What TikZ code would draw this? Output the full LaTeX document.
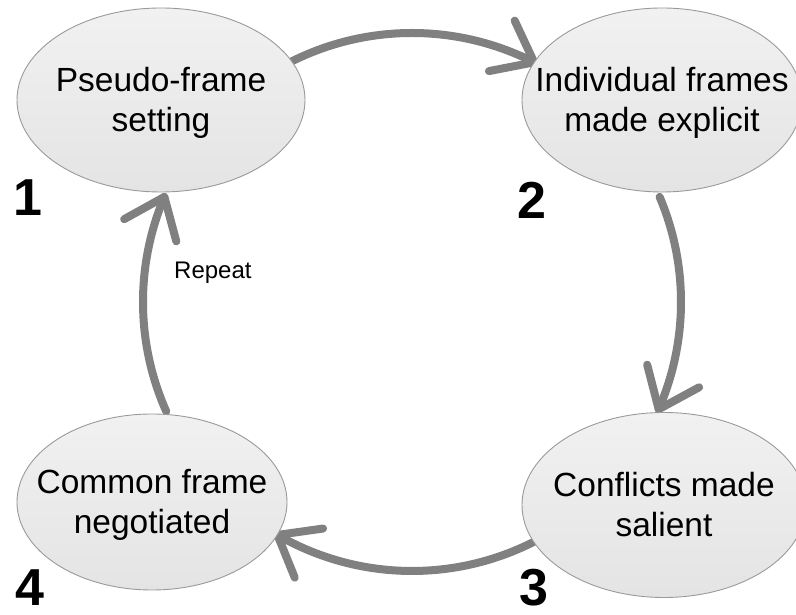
\documentclass[tikz,border=0pt]{standalone}
\usepackage{fontspec}
\setmainfont{Liberation Sans}
\usetikzlibrary{shapes.geometric}
\definecolor{arrowgray}{HTML}{808080}
\definecolor{stagefill}{HTML}{EBEBEB}
\definecolor{stageedge}{HTML}{9A9A9A}
% line strut: 32pt above, 8pt below the baseline
\newcommand\linestrut{\rule[-8pt]{0pt}{40pt}}
\begin{document}
\begin{tikzpicture}[x=1pt,y=1pt,
  stage/.style={ellipse, draw=stageedge, line width=0.9pt,
    top color=stagefill!70!white, bottom color=stagefill!97!black, inner sep=0pt},
  stagetext/.style={inner sep=0pt, align=center, font=\fontsize{33.5}{40}\selectfont},
  stepnum/.style={font=\bfseries\fontsize{52}{52}\selectfont, inner sep=0pt},
  cyc/.style={draw=arrowgray, line width=8pt, line cap=round},
  head/.style={draw=arrowgray, line width=8pt, line cap=round, line join=round}
]
\useasboundingbox (0,0) rectangle (796,615);
\fill[white] (0,0) rectangle (796,615);

% centre of the cycle and the ends of its four arcs
\coordinate (c) at (412,313);
\path (c) ++(117:269pt) coordinate (a1s);
\path (c) ++(63:269pt) coordinate (a1e);
\path (c) ++(23:269pt) coordinate (a2s);
\path (c) ++(-23.5:269pt) coordinate (a2e);
\path (c) ++(-62.6:269pt) coordinate (a3s);
\path (c) ++(-120:269pt) coordinate (a3e);
\path (c) ++(204:269pt) coordinate (a4s);
\path (c) ++(157:269pt) coordinate (a4e);

% cycle arrows (clockwise arcs with open heads)
\draw[cyc] (a1s) arc[start angle=117, end angle=63, radius=269pt];
\draw[head] (a1e) ++(191:46pt) -- (a1e) -- ++(115:46pt);
\draw[cyc] (a2s) arc[start angle=23, end angle=-23.5, radius=269pt];
\draw[head] (a2e) ++(104.5:46pt) -- (a2e) -- ++(28.5:46pt);
\draw[cyc] (a3s) arc[start angle=-62.6, end angle=-120, radius=269pt];
\draw[head] (a3e) ++(8:46pt) -- (a3e) -- ++(-68:46pt);
\draw[cyc] (a4s) arc[start angle=204, end angle=157, radius=269pt];
\draw[head] (a4e) ++(-75:46pt) -- (a4e) -- ++(-151:46pt);

% stages
\node[stage, minimum width=288pt, minimum height=184pt] (s1) at (161,515) {};
\node[stage, minimum width=280pt, minimum height=184pt] (s2) at (662,515) {};
\node[stage, minimum width=284pt, minimum height=185pt] (s3) at (664,110) {};
\node[stage, minimum width=270pt, minimum height=176pt] (s4) at (152,113) {};

\node[stagetext] (t1) at (s1.center) {\linestrut Pseudo-frame\\\linestrut setting};
\node[stagetext] (t2) at (s2.center) {\linestrut Individual frames\\\linestrut made explicit};
\node[stagetext] (t3) at (s3.center) {\linestrut Conflicts made\\\linestrut salient};
\node[stagetext] (t4) at (s4.center) {\linestrut Common frame\\\linestrut negotiated};

% step numbers
\node[stepnum] (n1) at (28,417) {1};
\node[stepnum] (n2) at (532,415) {2};
\node[stepnum] (n3) at (534,27) {3};
\node[stepnum] (n4) at (30,27) {4};

% loop label
\node[font=\fontsize{24}{28}\selectfont, inner sep=0pt, anchor=base west] (rep) at (174,336) {Repeat};
\end{tikzpicture}
\end{document}
